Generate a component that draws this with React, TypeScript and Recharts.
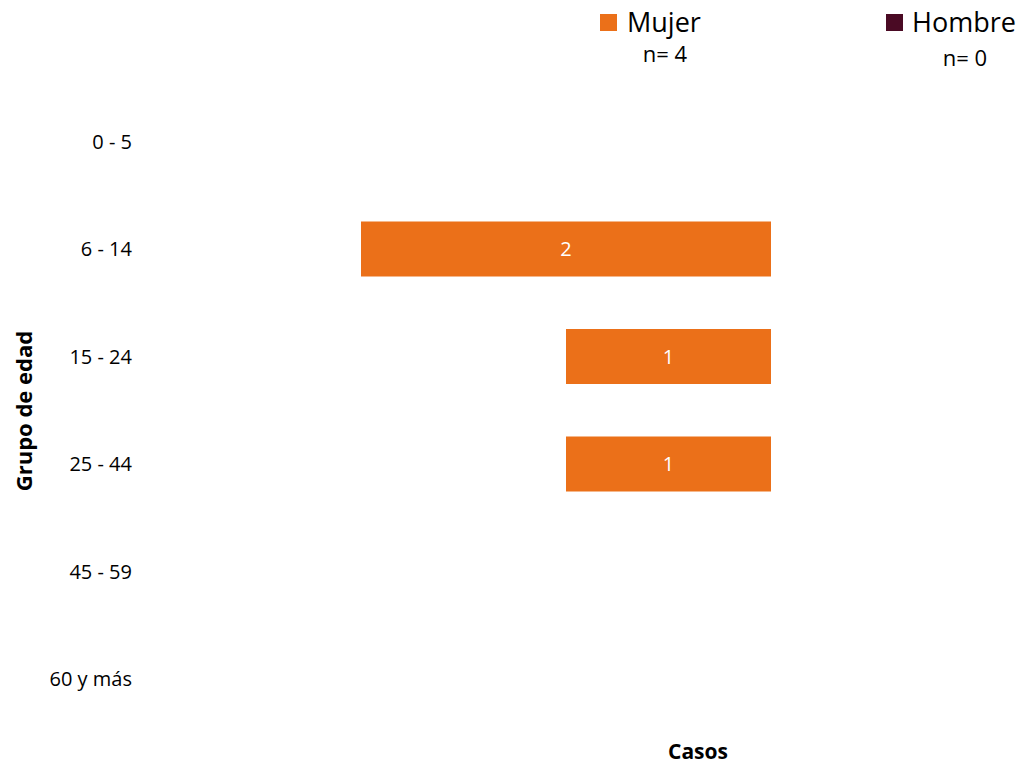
import { Bar, BarChart, LabelList, XAxis, YAxis } from "recharts"

const ageGroups = ["0 - 5", "6 - 14", "15 - 24", "25 - 44", "45 - 59", "60 y más"]
const mujer = [0, 2, 1, 1, 0, 0]
const hombre = [0, 0, 0, 0, 0, 0]
const totals = { mujer: 4, hombre: 0 }

const MUJER = "#EB7019"
const HOMBRE = "#4A0A24"
const FONT = "'Open Sans', 'Noto Sans', sans-serif"

const data = ageGroups.map((age, i) => ({
  age,
  mujer: -mujer[i],
  hombre: hombre[i],
}))

const fmt = (v: unknown) => (Number(v) ? String(Math.abs(Number(v))) : "")

export default function App() {
  return (
    <div
      style={{
        position: "absolute",
        left: 0,
        top: 0,
        width: 1020,
        height: 764,
        fontFamily: FONT,
        background: "#fff",
      }}
    >
      <BarChart
        width={1020}
        height={764}
        data={data}
        layout="vertical"
        stackOffset="sign"
        margin={{ top: 88, right: 44, bottom: 0, left: 36 }}
        style={{ overflow: "visible" }}
      >
        <XAxis
          type="number"
          domain={[-3, 1]}
          ticks={[]}
          axisLine={false}
          tickLine={false}
          tick={false}
          height={31}
          label={{
            content: () => (
              <text
                x={698}
                y={759}
                textAnchor="middle"
                fontFamily={FONT}
                fontSize={21}
                fontWeight="bold"
                fill="#000"
              >
                Casos
              </text>
            ),
          }}
        />
        <YAxis
          type="category"
          dataKey="age"
          width={120}
          axisLine={false}
          tickLine={false}
          tickSize={0}
          tickMargin={24}
          tick={{ fill: "#000", fontSize: 20, fontFamily: FONT }}
          label={{
            content: () => (
              <text
                x={0}
                y={0}
                transform="translate(32, 411) rotate(-90)"
                textAnchor="middle"
                fontFamily={FONT}
                fontSize={22}
                fontWeight="bold"
                fill="#000"
              >
                Grupo de edad
              </text>
            ),
          }}
        />
        <Bar dataKey="mujer" stackId="a" fill={MUJER} barSize={55} isAnimationActive={false}>
          <LabelList dataKey="mujer" position="center" fill="#fff" fontSize={20} fontFamily={FONT} formatter={fmt} />
        </Bar>
        <Bar dataKey="hombre" stackId="a" fill={HOMBRE} barSize={55} isAnimationActive={false}>
          <LabelList dataKey="hombre" position="center" fill="#fff" fontSize={20} fontFamily={FONT} formatter={fmt} />
        </Bar>
      </BarChart>

      <div style={{ position: "absolute", left: 600, top: 7, fontSize: 27, lineHeight: "30px", display: "flex", alignItems: "center" }}>
        <span style={{ display: "inline-block", width: 17, height: 17, background: MUJER, marginRight: 10 }} />
        Mujer
      </div>
      <div style={{ position: "absolute", left: 615, width: 100, top: 42, fontSize: 22, lineHeight: "22px", textAlign: "center" }}>
        n= {totals.mujer}
      </div>
      <div style={{ position: "absolute", left: 886, top: 7, fontSize: 27, lineHeight: "30px", display: "flex", alignItems: "center" }}>
        <span style={{ display: "inline-block", width: 17, height: 17, background: HOMBRE, marginRight: 9 }} />
        Hombre
      </div>
      <div style={{ position: "absolute", left: 915, width: 100, top: 46, fontSize: 22, lineHeight: "22px", textAlign: "center" }}>
        n= {totals.hombre}
      </div>
    </div>
  )
}
